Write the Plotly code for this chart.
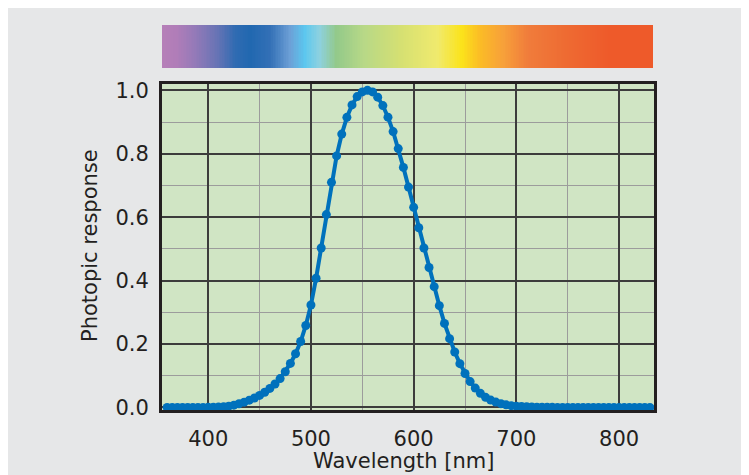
import plotly.graph_objects as go

# ---- data (photopic response, 5 nm steps) ----
wavelength = list(range(360, 835, 5))
response = [
    0.0000, 0.0000, 0.0000, 0.0000, 0.0000, 0.0001, 0.0001, 0.0002, 0.0004, 0.0006,  # 360-405
    0.0012, 0.0022, 0.0040, 0.0073, 0.0116, 0.0168, 0.0230, 0.0298, 0.0380, 0.0480,  # 410-455
    0.0600, 0.0739, 0.0910, 0.1126, 0.1390, 0.1693, 0.2080, 0.2586, 0.3230, 0.4073,  # 460-505
    0.5030, 0.6082, 0.7100, 0.7932, 0.8620, 0.9149, 0.9540, 0.9803, 0.9950, 1.0000,  # 510-555
    0.9950, 0.9786, 0.9520, 0.9154, 0.8700, 0.8163, 0.7570, 0.6949, 0.6310, 0.5668,  # 560-605
    0.5030, 0.4412, 0.3810, 0.3210, 0.2650, 0.2170, 0.1750, 0.1382, 0.1070, 0.0816,  # 610-655
    0.0610, 0.0446, 0.0320, 0.0232, 0.0170, 0.0119, 0.0082, 0.0057, 0.0041, 0.0029,  # 660-705
    0.0021, 0.0015, 0.0010, 0.0007, 0.0005, 0.0004, 0.0002, 0.0002, 0.0001, 0.0001,  # 710-755
    0.0001, 0.0000, 0.0000, 0.0000, 0.0000, 0.0000, 0.0000, 0.0000, 0.0000, 0.0000,  # 760-805
    0.0000, 0.0000, 0.0000, 0.0000, 0.0000,                                          # 810-830
]
x_ticks = [400, 500, 600, 700, 800]
y_ticks = [0.0, 0.2, 0.4, 0.6, 0.8, 1.0]
y_tick_labels = ["0.0", "0.2", "0.4", "0.6", "0.8", "1.0"]

# spectrum bar colour stops (position along bar, colour)
spectrum_pos = [0.0, 0.03, 0.065, 0.11, 0.15, 0.18, 0.22, 0.26, 0.29, 0.32, 0.355,
                0.41, 0.485, 0.56, 0.61, 0.648, 0.695, 0.745, 0.825, 0.91, 1.0]
spectrum_col = ["#b67fb8", "#b07db8", "#967ab8", "#6a74b5", "#2f6bb2", "#2168b0",
                "#3370b6", "#6c9fd6", "#5bc7ef", "#8dd1e0", "#93c98a", "#b7d887",
                "#d5e072", "#f0ea6e", "#fbe31a", "#fbbb26", "#f7a03a", "#f07c3b",
                "#ee6a32", "#ee5a2a", "#ee5a2a"]

TXT = "#231f20"
FONT = "DejaVu Sans"

fig = go.Figure()

fig.add_trace(go.Scatter(
    x=wavelength, y=response, mode="lines+markers",
    line=dict(color="#0071bc", width=4),
    marker=dict(color="#0071bc", size=9),
    xaxis="x", yaxis="y", showlegend=False, cliponaxis=True,
))

n = 300
bar_x = [i / (n - 1) for i in range(n)]
fig.add_trace(go.Heatmap(
    x=bar_x, y=[0], z=[bar_x],
    colorscale=[[p, c] for p, c in zip(spectrum_pos, spectrum_col)],
    showscale=False, xaxis="x2", yaxis="y2", hoverinfo="skip",
))

# page offset (body margin) and plot area in window px: x 162..654, y 25..410
OFF = 8
FW, FH = 749, 475
L = 162 - OFF
T = 25 - OFF
R = FW - (654 - OFF)
B = FH - (410 - OFF)
W, H = FW - L - R, FH - T - B

def px(xp):
    return (xp - OFF - L) / W

def py(yp):
    return (FH - B - (yp - OFF)) / H

fig.update_layout(
    width=FW, height=FH,
    margin=dict(l=L, r=R, t=T, b=B, autoexpand=False),
    paper_bgcolor="#e6e7e8",
    plot_bgcolor="#d0e5c4",
    font=dict(family=FONT, color=TXT, size=21),
    xaxis=dict(
        range=[355, 834], domain=[0, 1], anchor="y",
        tickvals=x_ticks, ticks="", ticklabelstandoff=8,
        showgrid=True, gridcolor="#3c3c3c", gridwidth=1.6,
        minor=dict(dtick=50, tick0=0, showgrid=True, gridcolor="#9c9c9c", gridwidth=1.2),
        showline=True, linecolor=TXT, linewidth=3, mirror=True,
        zeroline=False, tickfont=dict(size=21, color=TXT),
    ),
    yaxis=dict(
        range=[-0.008, 1.02], domain=[0, py(84)], anchor="x",
        tickvals=y_ticks, ticktext=y_tick_labels, ticks="", ticklabelstandoff=6,
        showgrid=True, gridcolor="#3c3c3c", gridwidth=1.6,
        minor=dict(dtick=0.1, tick0=0, showgrid=True, gridcolor="#9c9c9c", gridwidth=1.2),
        showline=True, linecolor=TXT, linewidth=3, mirror=True,
        zeroline=False, tickfont=dict(size=21, color=TXT),
    ),
    xaxis2=dict(range=[0, 1], domain=[0, 0.998], anchor="y2", visible=False),
    yaxis2=dict(range=[-0.5, 0.5], domain=[py(68), py(25)], anchor="x2", visible=False),
    annotations=[
        dict(text="Wavelength [nm]", x=px(403), y=py(461), xref="paper", yref="paper",
             showarrow=False, xanchor="center", yanchor="middle",
             font=dict(size=21, color=TXT, family=FONT)),
        dict(text="Photopic response", x=px(90), y=py(246), xref="paper", yref="paper",
             showarrow=False, xanchor="center", yanchor="middle", textangle=-90,
             font=dict(size=21, color=TXT, family=FONT)),
    ],
)

fig.write_html("out.html")
